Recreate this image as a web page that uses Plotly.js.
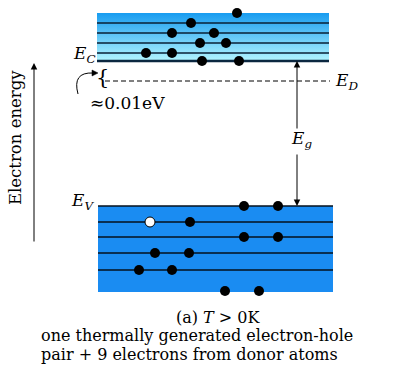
<!DOCTYPE html>
<html>
<head>
<meta charset="utf-8">
<script src="https://cdn.plot.ly/plotly-3.0.1.min.js"></script>
<style>html,body{margin:0;padding:0;background:#fff;}#chart{width:399px;height:366px;}</style>
</head>
<body>
<div id="chart"></div>
<script>
// Energy scale: arbitrary units (higher = higher electron energy)
var condBandX = [97, 329];
var condBandE = [304, 353];
var condLevels = [313, 323, 333, 343];
var Ec = 305;
var valBandX = [98, 333];
var valBandE = [74, 160];
var valLevels = [160, 144, 129, 113, 96];
var Ed = 285;
var condElecX = [237, 191, 172, 214, 200, 226, 146, 172, 202, 239];
var condElecE = [353, 343, 333, 333, 323, 323, 313, 313, 305, 305];
var valElecX = [244, 278, 190, 244, 278, 155, 189, 139, 172, 225, 259];
var valElecE = [160, 160, 144, 129, 129, 113, 113, 96, 96, 75, 75];
var holeX = [150];
var holeE = [144];

var FONT = 'DejaVu Serif, serif';

function levelTrace(levels, xr, width, color) {
  var x = [], y = [];
  levels.forEach(function (l) { x.push(xr[0], xr[1], null); y.push(l, l, null); });
  return {x: x, y: y, mode: 'lines', line: {color: color, width: width}, hoverinfo: 'skip', showlegend: false};
}

var traces = [
  {x: [condBandX[0], condBandX[1], condBandX[1], condBandX[0], condBandX[0]],
   y: [condBandE[0], condBandE[0], condBandE[1], condBandE[1], condBandE[0]],
   mode: 'lines', fill: 'toself', line: {width: 0, color: 'rgba(0,0,0,0)'},
   fillcolor: '#5ccaf8',
   fillgradient: {type: 'vertical', colorscale: [[0, '#b6f7ff'], [1, '#189cf0']]},
   hoverinfo: 'skip', showlegend: false},
  {x: [valBandX[0], valBandX[1], valBandX[1], valBandX[0], valBandX[0]],
   y: [valBandE[0], valBandE[0], valBandE[1], valBandE[1], valBandE[0]],
   mode: 'lines', fill: 'toself', fillcolor: '#1a8cf2', line: {width: 0, color: 'rgba(0,0,0,0)'},
   hoverinfo: 'skip', showlegend: false},
  levelTrace(condLevels, condBandX, 1.3, '#0a2036'),
  levelTrace([Ec], condBandX, 2.6, '#0b2740'),
  levelTrace(valLevels, valBandX, 1.3, '#05101c'),
  {x: condElecX, y: condElecE, mode: 'markers', marker: {size: 10, color: '#000'}, hoverinfo: 'skip', showlegend: false},
  {x: valElecX, y: valElecE, mode: 'markers', marker: {size: 10, color: '#000'}, hoverinfo: 'skip', showlegend: false},
  {x: holeX, y: holeE, mode: 'markers', marker: {size: 10, color: '#fff', line: {color: '#000', width: 1}}, hoverinfo: 'skip', showlegend: false}
];

function txt(x, y, text, size, extra) {
  var a = {x: x, y: y, xref: 'x', yref: 'y', text: text, showarrow: false, borderpad: 0,
           font: {family: FONT, size: size, color: '#000'}};
  for (var k in extra) a[k] = extra[k];
  return a;
}
function arrow(x, y, ax, ay) {
  return {x: x, y: y, ax: ax, ay: ay, xref: 'x', yref: 'y', axref: 'x', ayref: 'y',
          text: '', showarrow: true, arrowhead: 2, arrowsize: 1.3, arrowwidth: 1, arrowcolor: '#000'};
}

var annotations = [
  arrow(297, Ec, 297, 236),
  arrow(297, valLevels[0], 297, 213),
  arrow(34, 303, 34, 123),
  txt(301, 227, '<i>E<sub>g</sub></i>', 17),
  txt(346, 285, '<i>E<sub>D</sub></i>', 17),
  txt(84, 312, '<i>E<sub>C</sub></i>', 17),
  txt(82, 165, '<i>E<sub>V</sub></i>', 17),
  txt(102, 289, '{', 21),
  txt(127, 263, '≈0.01eV', 17),
  txt(15, 228, 'Electron energy', 16.5, {textangle: -90}),
  txt(218, 49, '(a) <i>T</i> > 0K', 16),
  txt(40, 30.5, 'one thermally generated electron-hole', 16, {xanchor: 'left'}),
  txt(40, 12, 'pair + 9 electrons from donor atoms', 16, {xanchor: 'left'})
];

var shapes = [
  {type: 'line', x0: 105, x1: 330, y0: Ed, y1: Ed, xref: 'x', yref: 'y', line: {color: '#000', width: 1, dash: '5px,3px'}},
  {type: 'path', xref: 'x', yref: 'y', path: 'M 78,272 Q 72,294 93,293', line: {color: '#000', width: 1}},
  {type: 'path', xref: 'x', yref: 'y', path: 'M 98,293 L 92,296 L 92,290 Z', fillcolor: '#000', line: {color: '#000', width: 0.5}}
];

var layout = {
  width: 399, height: 366,
  margin: {l: 0, r: 0, t: 0, b: 0},
  paper_bgcolor: '#fff', plot_bgcolor: '#fff',
  xaxis: {range: [0, 399], visible: false, fixedrange: true},
  yaxis: {range: [0, 366], visible: false, fixedrange: true},
  showlegend: false,
  annotations: annotations,
  shapes: shapes
};

Plotly.newPlot('chart', traces, layout, {staticPlot: true, displayModeBar: false});
</script>
</body>
</html>
